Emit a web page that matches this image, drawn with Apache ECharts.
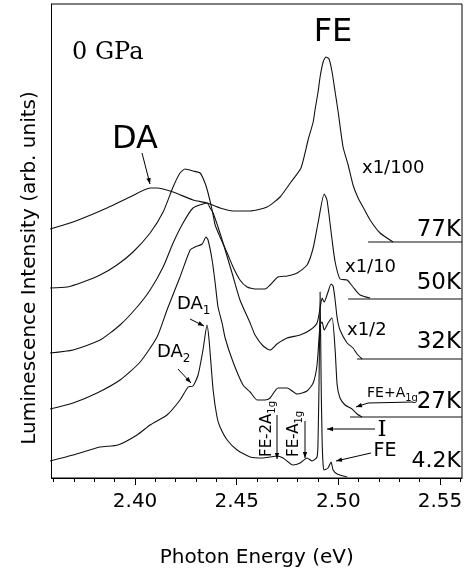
<!DOCTYPE html>
<html>
<head>
<meta charset="utf-8">
<script src="https://cdn.jsdelivr.net/npm/echarts@6/dist/echarts.min.js"></script>
<style>
html, body { margin: 0; padding: 0; background: #fff; }
#main { width: 466px; height: 577px; }
</style>
</head>
<body>
<div id="main"></div>
<script>
// photon energy (eV) vs luminescence intensity (arb. units, curves offset)
var k77 = [[2.3582,249],[2.3695,256],[2.3862,270],[2.3975,281],[2.4074,290],[2.4108,290],[2.4187,286],[2.4285,278],[2.4354,275],[2.4418,270],[2.4482,267],[2.4566,267],[2.4649,271],[2.4713,281],[2.4767,296],[2.4816,310],[2.4851,338],[2.4876,356],[2.4885,368],[2.4900,386],[2.4910,401],[2.4925,416],[2.4939,421],[2.4954,419],[2.4969,406],[2.4984,386],[2.4999,366],[2.5023,331],[2.5048,313],[2.5072,293],[2.5097,280],[2.5121,271],[2.5156,258],[2.5205,245],[2.5269,236]];
var k50 = [[2.3582,190],[2.3666,191],[2.3744,196],[2.3828,203],[2.3911,213],[2.3990,226],[2.4074,245],[2.4138,266],[2.4187,291],[2.4221,305],[2.4246,309],[2.4285,307],[2.4320,305],[2.4344,295],[2.4359,285],[2.4379,268],[2.4394,253],[2.4418,241],[2.4453,225],[2.4482,211],[2.4516,198],[2.4551,191],[2.4590,189],[2.4639,189],[2.4664,193],[2.4703,201],[2.4748,202],[2.4797,205],[2.4846,213],[2.4876,230],[2.4900,255],[2.4930,284],[2.4944,278],[2.4969,238],[2.4984,216],[2.5008,199],[2.5043,198],[2.5072,191],[2.5107,183],[2.5156,180]];
var k32 = [[2.3582,125],[2.3695,128],[2.3828,138],[2.3926,153],[2.4010,171],[2.4074,188],[2.4138,211],[2.4187,235],[2.4236,255],[2.4285,270],[2.4334,274],[2.4354,275],[2.4369,270],[2.4384,265],[2.4408,251],[2.4433,235],[2.4477,205],[2.4516,178],[2.4566,155],[2.4590,143],[2.4630,132],[2.4664,128],[2.4698,134],[2.4748,140],[2.4812,143],[2.4861,148],[2.4895,155],[2.4910,170],[2.4920,180],[2.4930,176],[2.4949,186],[2.4964,194],[2.4974,192],[2.4984,178],[2.4994,160],[2.5008,148],[2.5043,135],[2.5072,130],[2.5092,124],[2.5117,119]];
var k27 = [[2.3582,69],[2.3695,75],[2.3813,85],[2.3926,98],[2.4025,116],[2.4108,141],[2.4157,168],[2.4221,201],[2.4271,228],[2.4295,231],[2.4330,234],[2.4349,241],[2.4359,238],[2.4379,218],[2.4394,195],[2.4408,171],[2.4428,155],[2.4443,140],[2.4482,116],[2.4531,93],[2.4566,86],[2.4600,78],[2.4639,78],[2.4664,80],[2.4703,90],[2.4748,90],[2.4797,84],[2.4846,87],[2.4876,95],[2.4895,113],[2.4910,153],[2.4920,156],[2.4930,148],[2.4949,155],[2.4969,160],[2.4984,128],[2.4994,93],[2.5008,80],[2.5033,73],[2.5067,69],[2.5092,64],[2.5117,61]];
var k4 = [[2.3582,17],[2.3695,23],[2.3828,31],[2.3916,33],[2.4010,43],[2.4074,53],[2.4157,63],[2.4221,78],[2.4261,91],[2.4285,92],[2.4310,103],[2.4334,128],[2.4354,153],[2.4364,138],[2.4384,88],[2.4403,61],[2.4418,51],[2.4453,38],[2.4502,28],[2.4566,21],[2.4630,20],[2.4664,21],[2.4698,22],[2.4728,20],[2.4777,13],[2.4812,15],[2.4846,20],[2.4871,17],[2.4895,21],[2.4900,38],[2.4905,98],[2.4910,186],[2.4915,98],[2.4920,38],[2.4925,13],[2.4930,8],[2.4949,10],[2.4964,16],[2.4974,8],[2.4994,4],[2.5043,1]];
// flat zero lines drawn to the right of the spectra
var base77 = [[2.5146,236],[2.5608,236]];
var base50 = [[2.5048,179],[2.5608,179]];
var base32 = [[2.5092,119],[2.5608,119]];
var base27 = [[2.5057,61],[2.5608,61]];

var temps = ['77K', '50K', '32K', '27K', '4.2K'];
var scales = ['x1/100', 'x1/10', 'x1/2'];
var majorTicks = [2.40, 2.45, 2.50, 2.55];
var minorTicks = [2.36, 2.37, 2.38, 2.39, 2.40, 2.41, 2.42, 2.43, 2.44, 2.45, 2.46, 2.47, 2.48, 2.49, 2.50, 2.51, 2.52, 2.53, 2.54, 2.55, 2.56];

var SANS = '"DejaVu Sans", Verdana, sans-serif';
var SERIF = '"DejaVu Serif", serif';

function txt(str, x, y, size, align, font, extra) {
    var el = {
        type: 'text', x: x, y: y, z: 100,
        style: {
            text: str, fill: '#000', fontSize: size, fontFamily: font || SANS,
            align: align || 'left', verticalAlign: 'middle'
        }
    };
    if (extra) {
        for (var k in extra) el[k] = extra[k];
    }
    return el;
}

function arrow(pts) {
    var n = pts.length;
    var x1 = pts[n - 2][0], y1 = pts[n - 2][1], x2 = pts[n - 1][0], y2 = pts[n - 1][1];
    var a = Math.atan2(y2 - y1, x2 - x1), L = 6, W = 2.2;
    return [{
        type: 'polyline', z: 100, silent: true,
        shape: { points: pts },
        style: { stroke: '#000', lineWidth: 1, fill: null }
    }, {
        type: 'polygon', z: 100, silent: true,
        shape: {
            points: [[x2, y2],
                [x2 - L * Math.cos(a) + W * Math.sin(a), y2 - L * Math.sin(a) - W * Math.cos(a)],
                [x2 - L * Math.cos(a) - W * Math.sin(a), y2 - L * Math.sin(a) + W * Math.cos(a)]]
        },
        style: { fill: '#000' }
    }];
}

var subRich = {
    s: { fontSize: 10, fontFamily: SANS, verticalAlign: 'bottom', padding: [0, 0, -3, 0] }
};

var graphics = [
    txt('0 GPa', 72, 53, 24, 'left', SERIF),
    txt('DA', 135, 140, 32, 'center'),
    txt('FE', 333, 33, 32, 'center'),
    txt(scales[0], 362, 168, 18),
    txt(temps[0], 461, 230, 23, 'right'),
    txt(scales[1], 345, 267, 18),
    txt(temps[1], 461, 283, 23, 'right'),
    txt(scales[2], 347, 330, 18),
    txt(temps[2], 461, 342, 23, 'right'),
    txt(temps[3], 461, 402, 23, 'right'),
    txt(temps[4], 461, 461, 22, 'right'),
    { type: 'text', x: 367, y: 393, z: 100,
      style: { text: 'FE+A{s|1g}', fill: '#000', fontSize: 14, fontFamily: SANS, align: 'left', verticalAlign: 'middle', rich: subRich } },
    txt('I', 382, 430, 23, 'center', SERIF),
    txt('FE', 385, 451, 19, 'center'),
    { type: 'text', x: 177, y: 304, z: 100,
      style: { text: 'DA{s|1}', fill: '#000', fontSize: 18, fontFamily: SANS, align: 'left', verticalAlign: 'middle', rich: { s: { fontSize: 12, fontFamily: SANS, verticalAlign: 'bottom', padding: [0, 0, -4, 0] } } } },
    { type: 'text', x: 157, y: 352, z: 100,
      style: { text: 'DA{s|2}', fill: '#000', fontSize: 18, fontFamily: SANS, align: 'left', verticalAlign: 'middle', rich: { s: { fontSize: 12, fontFamily: SANS, verticalAlign: 'bottom', padding: [0, 0, -4, 0] } } } },
    { type: 'text', x: 267, y: 457, z: 100, rotation: Math.PI / 2,
      style: { text: 'FE-2A{s|1g}', fill: '#000', fontSize: 15, fontFamily: SANS, align: 'left', verticalAlign: 'middle', rich: subRich } },
    { type: 'text', x: 294, y: 457, z: 100, rotation: Math.PI / 2,
      style: { text: 'FE-A{s|1g}', fill: '#000', fontSize: 15, fontFamily: SANS, align: 'left', verticalAlign: 'middle', rich: subRich } }
];
graphics = graphics
    .concat(arrow([[142, 153], [150, 184]]))
    .concat(arrow([[413, 402], [368, 403], [356, 407]]))
    .concat(arrow([[375, 429], [327, 429]]))
    .concat(arrow([[371, 453], [336, 461]]))
    .concat(arrow([[190, 319], [204, 326]]))
    .concat(arrow([[178, 369], [191, 383]]))
    .concat(arrow([[277, 415], [277, 459]]))
    .concat(arrow([[305, 421], [305, 458]]));

function curve(name, data) {
    return {
        name: name, type: 'line', data: data, showSymbol: false, smooth: 0.2,
        lineStyle: { color: '#111', width: 1.1 }, animation: false
    };
}

var chart = echarts.init(document.getElementById('main'));
chart.setOption({
    backgroundColor: '#fff',
    animation: false,
    grid: {
        left: 51.5, right: 4, top: 4, bottom: 99,
        show: true, borderColor: '#000', borderWidth: 1,
        outerBoundsMode: 'none'
    },
    xAxis: [{
        type: 'value', min: 2.3589, max: 2.5608,
        name: 'Photon Energy (eV)', nameLocation: 'middle', nameGap: 70,
        nameTextStyle: { fontSize: 20, fontFamily: SANS, color: '#000' },
        axisLine: { show: true, onZero: false, lineStyle: { color: '#000', width: 1 } },
        axisTick: { show: true, customValues: majorTicks, length: 7, lineStyle: { color: '#000' } },
        axisLabel: {
            customValues: majorTicks, margin: 14, fontSize: 20, fontFamily: SANS, color: '#000',
            formatter: function (v) { return v.toFixed(2); }
        },
        splitLine: { show: false }
    }, {
        type: 'value', min: 2.3589, max: 2.5608, position: 'bottom',
        axisLine: { show: false },
        axisTick: { show: true, customValues: minorTicks, length: 4, lineStyle: { color: '#000' } },
        axisLabel: { show: false },
        splitLine: { show: false }
    }],
    yAxis: {
        type: 'value', min: 0, max: 474,
        name: 'Luminescence Intensity (arb. units)', nameLocation: 'middle', nameRotate: 90, nameGap: 12,
        nameTextStyle: { fontSize: 20, fontFamily: SANS, color: '#000', padding: [0, 54, 0, 0] },
        axisLine: { show: true, lineStyle: { color: '#000', width: 1 } },
        axisTick: { show: false },
        axisLabel: { show: false },
        splitLine: { show: false }
    },
    series: [
        curve('77K', k77), curve('50K', k50), curve('32K', k32), curve('27K', k27), curve('4.2K', k4),
        curve('77K base', base77), curve('50K base', base50), curve('32K base', base32), curve('27K base', base27)
    ],
    graphic: graphics
});
window.addEventListener('resize', function () { chart.resize(); });
</script>
</body>
</html>
